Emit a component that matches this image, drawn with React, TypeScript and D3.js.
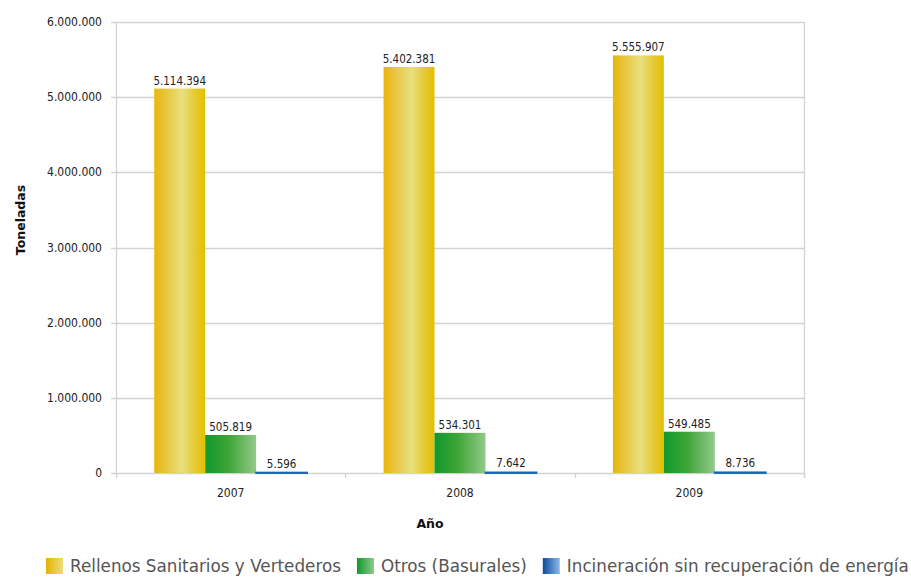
import React, { useEffect, useRef } from "react";
import * as d3 from "d3";

// Tonnes of waste by final disposal type, per year
const years = ["2007", "2008", "2009"];
const seriesNames = [
  "Rellenos Sanitarios y Vertederos",
  "Otros (Basurales)",
  "Incineración sin recuperación de energía",
];
const rellenos = [5114394, 5402381, 5555907];
const otros = [505819, 534301, 549485];
const incineracion = [5596, 7642, 8736];
const yTicks = [0, 1000000, 2000000, 3000000, 4000000, 5000000, 6000000];

const W = 911;
const H = 577;
const margin = { left: 116, right: 107, top: 22, bottom: 104 };

const fmt = (v: number) =>
  v === 0 ? "0" : d3.format(",")(v).replace(/,/g, ".");

const FONT = "'DejaVu Sans Condensed', 'DejaVu Sans', sans-serif";

export default function App() {
  const ref = useRef<SVGSVGElement | null>(null);

  useEffect(() => {
    const svg = d3.select(ref.current);
    svg.selectAll("*").remove();

    const defs = svg.append("defs");
    const grad = (id: string, stops: [number, string][]) => {
      const g = defs
        .append("linearGradient")
        .attr("id", id)
        .attr("x1", "0%")
        .attr("x2", "100%")
        .attr("y1", "0%")
        .attr("y2", "0%");
      stops.forEach(([o, c]) =>
        g.append("stop").attr("offset", `${o}%`).attr("stop-color", c)
      );
    };
    grad("gYellow", [
      [0, "#e9b60c"],
      [25, "#e8c743"],
      [55, "#e8e07f"],
      [80, "#e6c934"],
      [100, "#e2c000"],
    ]);
    grad("gGreen", [
      [0, "#10992f"],
      [45, "#3da535"],
      [100, "#93c98b"],
    ]);
    grad("gBlue", [
      [0, "#0d5ca8"],
      [100, "#2a78c2"],
    ]);
    grad("lYellow", [
      [0, "#e2b400"],
      [100, "#eddc7a"],
    ]);
    grad("lGreen", [
      [0, "#0f9a2e"],
      [100, "#8cc98a"],
    ]);
    grad("lBlue", [
      [0, "#0a4b9c"],
      [100, "#8cbbe8"],
    ]);

    const x0 = d3
      .scaleBand<string>()
      .domain(years)
      .range([margin.left, W - margin.right])
      .paddingInner(0)
      .paddingOuter(0);
    const x1 = d3
      .scaleBand<number>()
      .domain([0, 1, 2])
      .range([0, x0.bandwidth()])
      .paddingOuter(0.75)
      .paddingInner(0);
    const y = d3
      .scaleLinear()
      .domain([0, 6000000])
      .range([H - margin.bottom, margin.top]);

    const plotRight = W - margin.right;
    const gridColor = "#d2d2d2";

    // gridlines
    svg
      .append("g")
      .selectAll("line")
      .data(yTicks)
      .join("line")
      .attr("x1", margin.left - 5)
      .attr("x2", plotRight)
      .attr("y1", (d) => Math.round(y(d)) + 0.5)
      .attr("y2", (d) => Math.round(y(d)) + 0.5)
      .attr("stroke", gridColor)
      .attr("stroke-width", 1.3);

    // left axis and right border
    svg
      .append("line")
      .attr("x1", margin.left + 0.5)
      .attr("x2", margin.left + 0.5)
      .attr("y1", y(6000000))
      .attr("y2", y(0))
      .attr("stroke", gridColor)
      .attr("stroke-width", 1.3);
    svg
      .append("line")
      .attr("x1", plotRight + 0.5)
      .attr("x2", plotRight + 0.5)
      .attr("y1", y(6000000))
      .attr("y2", y(0) + 5)
      .attr("stroke", gridColor)
      .attr("stroke-width", 1.3);

    // x-axis tick marks at category boundaries
    const bounds = years.map((yr) => x0(yr) as number).concat([plotRight]);
    svg
      .append("g")
      .selectAll("line")
      .data(bounds)
      .join("line")
      .attr("x1", (d) => Math.round(d) + 0.5)
      .attr("x2", (d) => Math.round(d) + 0.5)
      .attr("y1", y(0))
      .attr("y2", y(0) + 5)
      .attr("stroke", gridColor)
      .attr("stroke-width", 1.3);

    // y tick labels
    svg
      .append("g")
      .selectAll("text")
      .data(yTicks)
      .join("text")
      .attr("x", margin.left - 14)
      .attr("y", (d) => y(d) + 4)
      .attr("text-anchor", "end")
      .attr("font-family", FONT)
      .attr("font-size", 12)
      .attr("fill", "#222")
      .text((d) => fmt(d));

    // x labels
    svg
      .append("g")
      .selectAll("text")
      .data(years)
      .join("text")
      .attr("x", (d) => (x0(d) as number) + x0.bandwidth() / 2)
      .attr("y", y(0) + 24)
      .attr("text-anchor", "middle")
      .attr("font-family", FONT)
      .attr("font-size", 12)
      .attr("fill", "#222")
      .text((d) => d);

    // axis titles
    svg
      .append("text")
      .attr("transform", `translate(25,${220}) rotate(-90)`)
      .attr("text-anchor", "middle")
      .attr("font-family", "'DejaVu Sans', sans-serif")
      .attr("font-weight", "bold")
      .attr("font-size", 12.5)
      .attr("fill", "#111")
      .text("Toneladas");
    svg
      .append("text")
      .attr("x", 430)
      .attr("y", 528)
      .attr("text-anchor", "middle")
      .attr("font-family", "'DejaVu Sans', sans-serif")
      .attr("font-weight", "bold")
      .attr("font-size", 12.5)
      .attr("fill", "#111")
      .text("Año");

    // bars
    const series = [rellenos, otros, incineracion];
    const fills = ["url(#gYellow)", "url(#gGreen)", "url(#gBlue)"];
    series.forEach((vals, si) => {
      const g = svg.append("g");
      const rows = years.map((yr, i) => ({ yr, v: vals[i] }));
      g.selectAll("rect")
        .data(rows)
        .join("rect")
        .attr("x", (d) => (x0(d.yr) as number) + (x1(si) as number))
        .attr("width", x1.bandwidth())
        .attr("y", (d) => y(d.v))
        .attr("height", (d) => y(0) - y(d.v))
        .attr("fill", fills[si])
        .attr("stroke", si === 2 ? "#1565b0" : "none")
        .attr("stroke-width", si === 2 ? 1.8 : 0);
      g.selectAll("text")
        .data(rows)
        .join("text")
        .attr(
          "x",
          (d) => (x0(d.yr) as number) + (x1(si) as number) + x1.bandwidth() / 2
        )
        .attr("y", (d) => y(d.v) - (si === 2 ? 5 : 4))
        .attr("text-anchor", "middle")
        .attr("font-family", FONT)
        .attr("font-size", 11.5)
        .attr("fill", "#222")
        .text((d) => fmt(d.v));
    });

    // legend
    const legendFills = ["url(#lYellow)", "url(#lGreen)", "url(#lBlue)"];
    let cx = 46;
    const ly = 558;
    seriesNames.forEach((name, i) => {
      svg
        .append("rect")
        .attr("x", cx)
        .attr("y", ly)
        .attr("width", 17)
        .attr("height", 16)
        .attr("fill", legendFills[i]);
      const t = svg
        .append("text")
        .attr("x", cx + 24)
        .attr("y", ly + 14)
        .attr("font-family", "'DejaVu Sans', sans-serif")
        .attr("font-size", 16.8)
        .attr("fill", "#555")
        .text(name);
      const w = (t.node() as SVGTextElement).getComputedTextLength();
      cx = cx + 24 + w + 16;
    });
  }, []);

  return (
    <svg
      ref={ref}
      width={W}
      height={H}
      style={{ position: "absolute", left: 0, top: 0, background: "#fff" }}
    />
  );
}
